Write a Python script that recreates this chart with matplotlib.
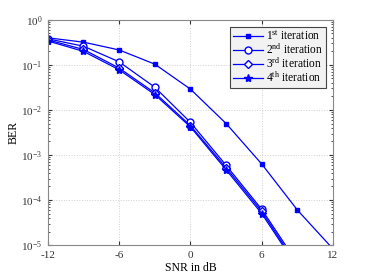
import numpy as np
import matplotlib
matplotlib.use('Agg')
import matplotlib.pyplot as plt
from matplotlib.ticker import LogLocator, NullFormatter

plt.rcParams['font.family'] = ['Liberation Serif', 'DejaVu Serif']
plt.rcParams['mathtext.fontset'] = 'custom'
plt.rcParams['mathtext.rm'] = 'Liberation Serif'
plt.rcParams['mathtext.it'] = 'Liberation Serif'
plt.rcParams['axes.unicode_minus'] = False

snr = [-12, -9, -6, -3, 0, 3, 6, 9, 12]
ber_1 = [0.40, 0.32, 0.215, 0.104, 0.029, 5.0e-3, 6.3e-4, 6.0e-5, 8.2e-6]
ber_2 = [0.38, 0.26, 0.117, 0.032, 5.3e-3, 5.9e-4, 6.2e-5, 4.0e-6, 3e-7]
ber_3 = [0.36, 0.22, 0.085, 0.024, 4.5e-3, 5.2e-4, 5.6e-5, 3.5e-6, 2e-7]
ber_4 = [0.34, 0.20, 0.078, 0.022, 4.2e-3, 4.7e-4, 5.0e-5, 3.2e-6, 2e-7]
labels = ['1$^{\\rm st}$ iteration', '2$^{\\rm nd}$ iteration',
          '3$^{\\rm rd}$ iteration', '4$^{\\rm th}$ iteration']

fig = plt.figure(figsize=(3.68, 2.76), dpi=100)
ax = fig.add_axes([0.130, 0.112, 0.775, 0.816])

blue = '#0000ff'
ax.semilogy(snr, ber_1, '-s', color=blue, lw=0.9, ms=3.5, mfc=blue, label=labels[0])
ax.semilogy(snr, ber_2, '-o', color=blue, lw=0.9, ms=5, mfc='white', label=labels[1])
ax.semilogy(snr, ber_3, '-D', color=blue, lw=0.9, ms=4, mfc='white', label=labels[2])
ax.semilogy(snr, ber_4, '-*', color=blue, lw=0.9, ms=6, mfc=blue, label=labels[3])

ax.set_xlim(-12, 12)
ax.set_ylim(1e-5, 1)
ax.set_xticks([-12, -6, 0, 6, 12])
ax.yaxis.set_minor_locator(LogLocator(base=10, subs=np.arange(2, 10)))
ax.yaxis.set_minor_formatter(NullFormatter())
ax.tick_params(which='both', direction='in', top=True, right=True, labelsize=8, colors='#333333')
ax.tick_params(which='major', length=3, pad=4)
ax.tick_params(which='minor', length=1.5)
ax.grid(True, which='major', linestyle=':', color='#d0d0d0', lw=0.7)
for s in ax.spines.values():
    s.set_color('#888888')

ax.set_xlabel('SNR in dB', fontsize=8.5, labelpad=2)
ax.set_ylabel('BER', fontsize=8.5, labelpad=1)

leg = ax.legend(loc='upper right', fontsize=8.3, fancybox=False, framealpha=1,
                edgecolor='#444444', handlelength=2.6, labelspacing=-0.05,
                borderpad=0.25, handletextpad=0.3, borderaxespad=0.6)
leg.get_frame().set_facecolor('#f2f2f2')
leg.get_frame().set_linewidth(0.8)

fig.savefig('out.png', dpi=100)
